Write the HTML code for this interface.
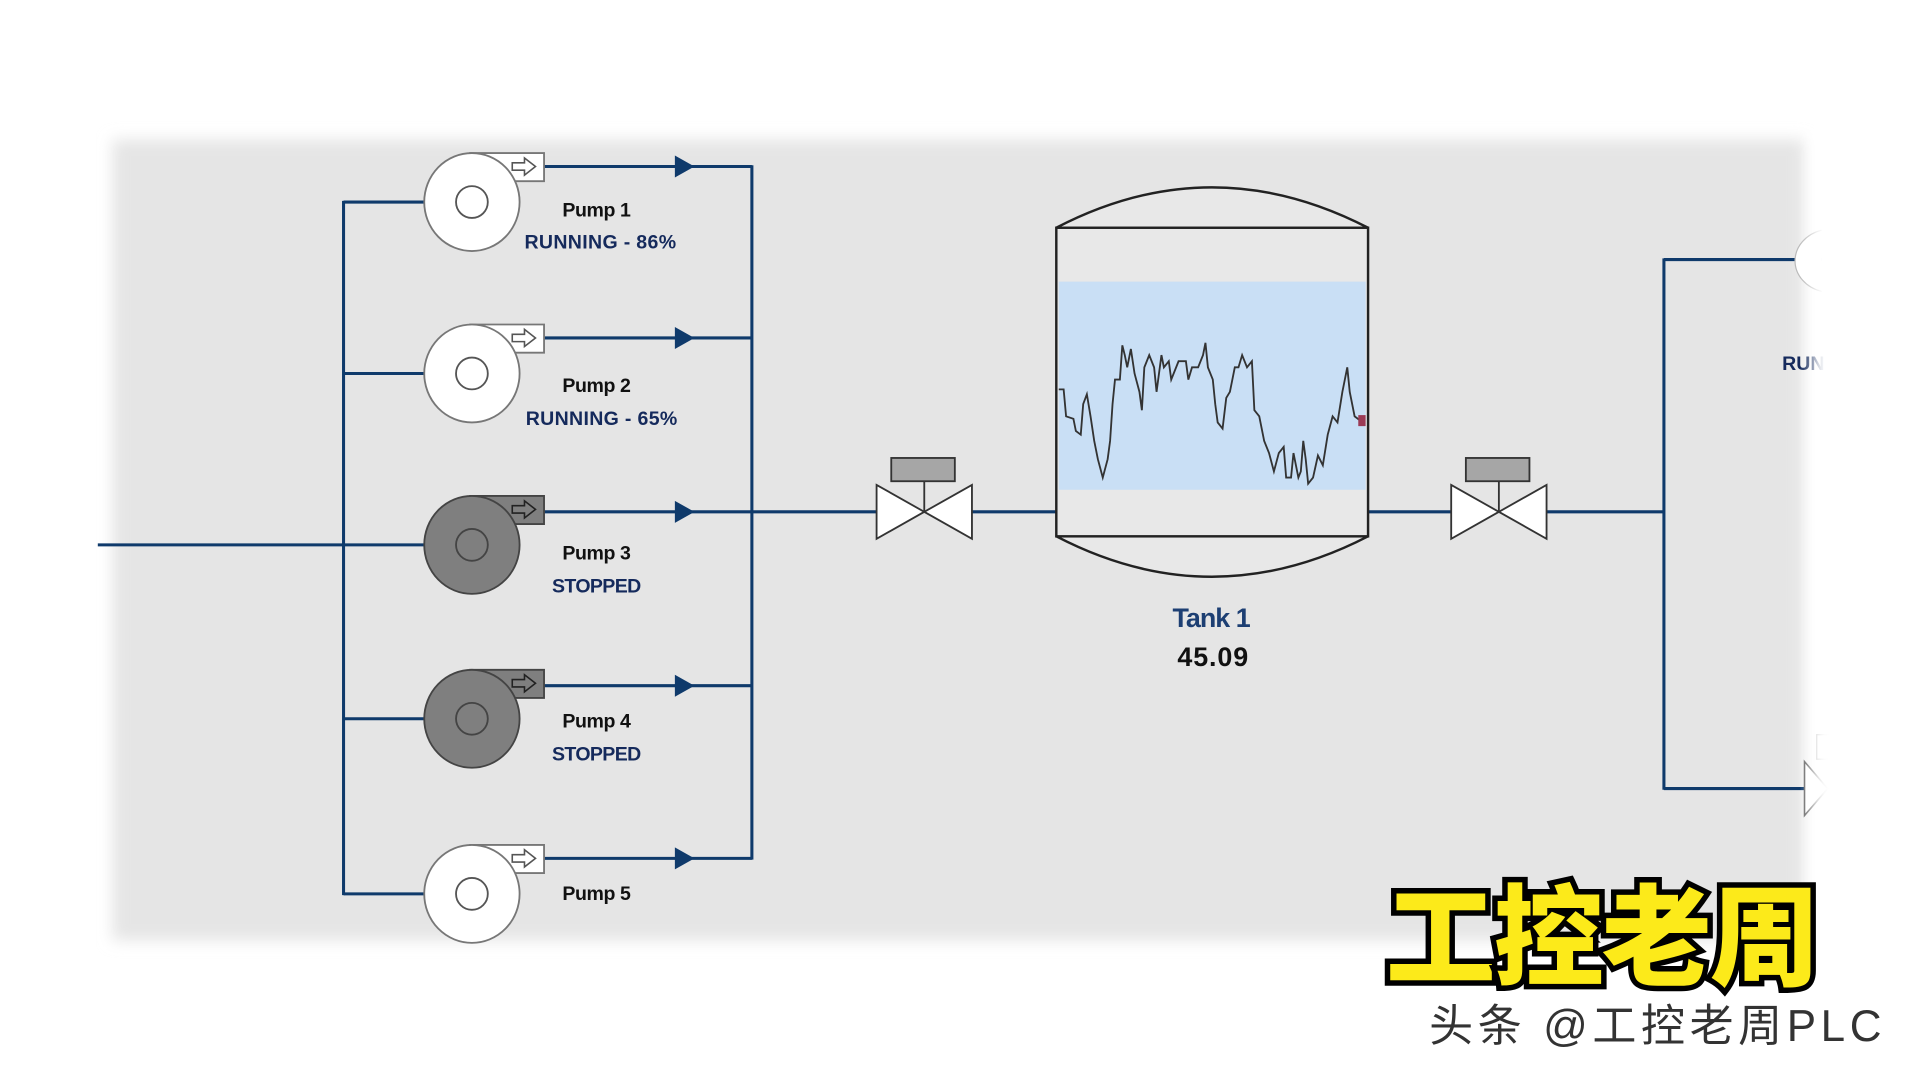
<!DOCTYPE html>
<html><head><meta charset="utf-8"><style>
html,body{margin:0;padding:0;background:#fff;overflow:hidden}
svg{display:block}
text{font-family:"Liberation Sans","Noto Sans CJK SC",sans-serif}
</style></head><body>
<svg width="1917" height="1080" viewBox="0 0 1568 882" preserveAspectRatio="none" xmlns="http://www.w3.org/2000/svg">
<defs>
<filter id="b" x="-10%" y="-10%" width="120%" height="120%"><feGaussianBlur stdDeviation="6"/></filter>
<g id="pumpW">
  <path d="M386,125 L445,125 L445,148 L420,148 Z" fill="#fff" stroke="#777" stroke-width="1.5"/>
  <ellipse cx="386" cy="165" rx="39" ry="40" fill="#fff" stroke="#777" stroke-width="1.5"/>
  <circle cx="386" cy="165" r="13" fill="none" stroke="#555" stroke-width="1.5"/>
  <path d="M419,133 h10 v-4 l9,7 l-9,7 v-4 h-10 z" fill="#fff" stroke="#555" stroke-width="1.3"/>
</g>
<g id="pumpG">
  <path d="M386,125 L445,125 L445,148 L420,148 Z" fill="#7f7f7f" stroke="#444" stroke-width="1.5"/>
  <ellipse cx="386" cy="165" rx="39" ry="40" fill="#7f7f7f" stroke="#444" stroke-width="1.5"/>
  <circle cx="386" cy="165" r="13" fill="none" stroke="#444" stroke-width="1.5"/>
  <path d="M419,133 h10 v-4 l9,7 l-9,7 v-4 h-10 z" fill="#7f7f7f" stroke="#222" stroke-width="1.3"/>
</g>
<g id="valve">
  <polygon points="717,396 756,418 717,440" fill="#fff" stroke="#333" stroke-width="1.5"/>
  <polygon points="795,396 756,418 795,440" fill="#fff" stroke="#333" stroke-width="1.5"/>
  <line x1="756" y1="393" x2="756" y2="418" stroke="#333" stroke-width="1.5"/>
  <rect x="729" y="374" width="52" height="19" fill="#a6a6a6" stroke="#333" stroke-width="1.5"/>
</g>
</defs>
<rect x="0" y="0" width="1568" height="882" fill="#fff"/>
<rect x="92" y="114" width="1384" height="654" fill="#e5e5e5" filter="url(#b)"/>
<g stroke="#0f3a6b" stroke-width="2.5" fill="none">
  <line x1="80" y1="445" x2="347" y2="445"/>
  <line x1="281" y1="164" x2="281" y2="731"/>
  <line x1="281" y1="165" x2="347" y2="165"/>
  <line x1="281" y1="305" x2="347" y2="305"/>
  <line x1="281" y1="587" x2="347" y2="587"/>
  <line x1="281" y1="730" x2="347" y2="730"/>
  <line x1="445" y1="136" x2="615" y2="136"/>
  <line x1="445" y1="276" x2="615" y2="276"/>
  <line x1="445" y1="418" x2="717" y2="418"/>
  <line x1="445" y1="560" x2="615" y2="560"/>
  <line x1="445" y1="701" x2="615" y2="701"/>
  <line x1="615" y1="135" x2="615" y2="702"/>
  <line x1="795" y1="418" x2="864" y2="418"/>
  <line x1="1119" y1="418" x2="1187" y2="418"/>
  <line x1="1263" y1="418" x2="1361" y2="418"/>
  <line x1="1361" y1="211" x2="1361" y2="645"/>
  <line x1="1361" y1="212" x2="1490" y2="212"/>
  <line x1="1361" y1="644" x2="1480" y2="644"/>
</g>
<g fill="#0f3a6b">
  <polygon points="552,127 568,136 552,145"/>
  <polygon points="552,267 568,276 552,285"/>
  <polygon points="552,409 568,418 552,427"/>
  <polygon points="552,551 568,560 552,569"/>
  <polygon points="552,692 568,701 552,710"/>
</g>
<use href="#pumpW"/>
<use href="#pumpW" transform="translate(0,140)"/>
<use href="#pumpG" transform="translate(0,280)"/>
<use href="#pumpG" transform="translate(0,422)"/>
<use href="#pumpW" transform="translate(0,565)"/>
<g font-size="16" text-anchor="middle" font-weight="bold">
  <text x="488" y="177" fill="#111" textLength="56">Pump 1</text>
  <text x="491" y="203" fill="#152a5c" textLength="124">RUNNING - 86%</text>
  <text x="488" y="320" fill="#111" textLength="56">Pump 2</text>
  <text x="492" y="347" fill="#152a5c" textLength="124">RUNNING - 65%</text>
  <text x="488" y="457" fill="#111" textLength="56">Pump 3</text>
  <text x="488" y="484" fill="#152a5c" textLength="73">STOPPED</text>
  <text x="488" y="594" fill="#111" textLength="56">Pump 4</text>
  <text x="488" y="621" fill="#152a5c" textLength="73">STOPPED</text>
  <text x="488" y="735" fill="#111" textLength="56">Pump 5</text>
  <text x="1475" y="302" fill="#152a5c">RUN</text>
</g>
<use href="#valve"/>
<use href="#valve" transform="translate(470,0)"/>
<path d="M864,186 Q991,120 1119,186" fill="#e8e8e8" stroke="#222" stroke-width="2"/>
<path d="M864,438 Q991,504 1119,438" fill="#e8e8e8" stroke="#222" stroke-width="2"/>
<rect x="864" y="186" width="255" height="252" fill="#e8e8e8" stroke="#222" stroke-width="2"/>
<rect x="866" y="230" width="251" height="170" fill="#c9dff5"/>
<polyline fill="none" stroke="#333" stroke-width="1.5" points="866,318 870,318 872,340 878,342 880,352 884,355 886,330 889,322 892,340 895,360 898,375 902,390 906,375 908,360 910,330 912,310 916,310 918,282 920,290 922,300 925,285 928,305 932,320 934,335 936,300 940,290 944,300 946,320 950,290 952,300 956,295 958,310 962,300 964,295 970,295 972,310 975,300 980,300 984,290 986,280 988,300 992,310 994,330 996,345 1000,350 1003,325 1006,320 1010,300 1013,300 1016,290 1020,300 1024,295 1026,335 1030,340 1034,360 1038,370 1042,385 1046,370 1050,365 1052,390 1056,390 1058,370 1062,390 1064,385 1066,360 1068,375 1070,395 1074,390 1078,372 1082,380 1086,355 1090,340 1094,345 1098,320 1102,300 1104,320 1108,340 1112,343"/>
<rect x="1111" y="339" width="6" height="9" fill="#9b3a55"/>
<text x="991" y="512" font-size="22" text-anchor="middle" font-weight="bold" fill="#1d3f73" textLength="64">Tank 1</text>
<text x="992" y="544" font-size="22" text-anchor="middle" font-weight="bold" fill="#111" textLength="58">45.09</text>
<path d="M1490,188 A30,26 0 0 0 1490,238" fill="#fff" stroke="#bbb" stroke-width="1"/>
<polygon points="1476,622 1495,644 1476,666" fill="#fff" stroke="#666" stroke-width="1.3"/>
<rect x="1486" y="600" width="10" height="20" fill="#fff" stroke="#999" stroke-width="1"/>
<rect x="1482" y="100" width="90" height="700" fill="#fff" filter="url(#b)"/>
<text x="1311" y="798" font-size="90" text-anchor="middle" fill="#fcea1a" stroke="#000" stroke-width="9" paint-order="stroke" textLength="355" style="font-family:'Noto Sans CJK SC',sans-serif;font-weight:900">工控老周</text>
<text x="1354" y="850" font-size="36" text-anchor="middle" fill="#333" stroke="#fff" stroke-width="2" paint-order="stroke" textLength="370" style="font-family:'Liberation Sans','Noto Sans CJK SC',sans-serif">头条 @工控老周PLC</text>
</svg>
</body></html>
